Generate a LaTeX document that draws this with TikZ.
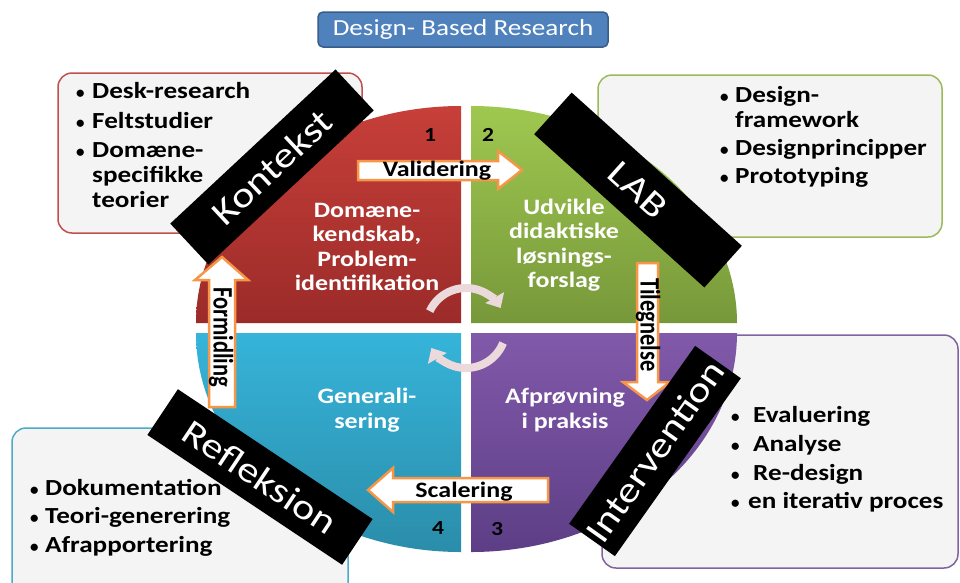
\documentclass[tikz,border=0pt]{standalone}
\usepackage{fontspec}
\setmainfont{Carlito}[FakeStretch=1.18]
\newfontfamily\plainfont{Carlito}
\usetikzlibrary{arrows.meta}
\definecolor{titlefill}{HTML}{4F81BD}
\definecolor{titledraw}{HTML}{385D8A}
\definecolor{redtop}{HTML}{C73F39}
\definecolor{redbot}{HTML}{9B2B29}
\definecolor{greentop}{HTML}{9FC850}
\definecolor{greenbot}{HTML}{77983A}
\definecolor{bluetop}{HTML}{36B4DA}
\definecolor{bluebot}{HTML}{2A8DAA}
\definecolor{purptop}{HTML}{8159AA}
\definecolor{purpbot}{HTML}{5D3E86}
\definecolor{boxfill}{HTML}{F4F4F4}
\definecolor{redline}{HTML}{C0504D}
\definecolor{greenline}{HTML}{9BBB59}
\definecolor{blueline}{HTML}{4BACC6}
\definecolor{purpline}{HTML}{8064A2}
\definecolor{arroworange}{HTML}{F79646}
\definecolor{cyclepink}{HTML}{EBD9DB}
\tikzset{
  infobox/.style={rounded corners=14pt, fill=boxfill, line width=1.5pt, inner sep=0pt},
  quadtext/.style={text=white, font=\fontsize{22}{24.5}\selectfont\bfseries, align=center, inner sep=0pt},
  numtext/.style={font=\fontsize{20}{20}\selectfont\bfseries, inner sep=0pt},
  item/.style={anchor=west, inner sep=0pt, font=\fontsize{23}{27}\selectfont\bfseries, text height=16pt, text depth=5pt},
  band/.style={fill=black, text=white, inner sep=0pt, minimum height=56pt, font=\fontsize{36}{36}\selectfont},
  blockarrow/.style={fill=white, draw=arroworange, line width=2.5pt, line join=miter},
  arrowlabel/.style={font=\fontsize{22}{22}\selectfont\bfseries, inner sep=0pt},
  vlabel/.style={font=\plainfont\fontsize{22.5}{22.5}\selectfont\bfseries, inner sep=0pt, rotate=-90, yscale=1.25},
  cyclearrow/.style={draw=cyclepink, line width=8pt, -{Triangle[length=12pt,width=21pt]}},
}
\newcommand{\bul}[1]{\makebox[#1][l]{\raisebox{0.5pt}{\plainfont\fontsize{17}{17}\selectfont\textbullet}}}
\begin{document}
\begin{tikzpicture}[x=1pt,y=-1pt]
\clip (0,0) rectangle (960,582);
\fill[white] (0,0) rectangle (960,582);

% title
\node[draw=titledraw, fill=titlefill, rounded corners=5pt, line width=1.5pt,
      minimum width=290pt, minimum height=35pt, text=white,
      font=\fontsize{23}{23}\selectfont] (title) at (463,29.5) {Design- Based Research};

% info boxes
\node[infobox, draw=redline, minimum width=304pt, minimum height=160pt] (kbox) at (210,153) {};
\node[infobox, draw=greenline, minimum width=344pt, minimum height=162pt] (lbox) at (770,156) {};
\node[infobox, draw=blueline, minimum width=336pt, minimum height=182pt] (rbox) at (180,519) {};
\node[infobox, draw=purpline, minimum width=356pt, minimum height=233pt] (ibox) at (780,451.5) {};

% quadrants
\shade[top color=redtop, bottom color=redbot] (461,323) -- (461,106)
  arc[start angle=-90, end angle=-180, x radius=265, y radius=217] -- cycle;
\shade[top color=greentop, bottom color=greenbot] (471,323) -- (471,106)
  arc[start angle=-90, end angle=0, x radius=266, y radius=217] -- cycle;
\shade[top color=bluetop, bottom color=bluebot] (461,333) -- (196,333)
  arc[start angle=180, end angle=90, x radius=265, y radius=219] -- cycle;
\shade[top color=purptop, bottom color=purpbot] (471,333) -- (737,333)
  arc[start angle=0, end angle=90, x radius=266, y radius=219] -- cycle;

% cycle arrows
\coordinate (hub) at (466,328);
\draw[cyclearrow] (hub) ++(-155:40) arc[start angle=-155, end angle=-30, radius=40];
\draw[cyclearrow] (hub) ++(22:40) arc[start angle=22, end angle=150, radius=40];

% numbers
\node[numtext] (n1) at (430,135) {1};
\node[numtext] (n2) at (488,135) {2};
\node[numtext] (n3) at (497,529) {3};
\node[numtext] (n4) at (438,528) {4};

% quadrant texts
\node[quadtext] (q1) at (367,247) {Domæne-\\kendskab,\\Problem-\\identifikation};
\node[quadtext] (q2) at (564,245) {Udvikle\\didaktiske\\løsnings-\\forslag};
\node[quadtext] (q4) at (367,410) {Generali-\\sering};
\node[quadtext] (q3) at (565,410) {Afprøvning\\i praksis};

% block arrows
\draw[blockarrow] (358,161) -- (498,161) -- (498,151) -- (522,170) -- (498,189) -- (498,180) -- (358,180) -- cycle;
\node[arrowlabel] (validering) at (437,171) {Validering};
\draw[blockarrow] (637,263) -- (658,263) -- (658,382) -- (670,382) -- (647,400) -- (623,382) -- (637,382) -- cycle;
\node[vlabel] (tilegnelse) at (648,325) {Tilegnelse};
\draw[blockarrow] (548,478) -- (393,478) -- (393,468) -- (368,490) -- (393,512) -- (393,502) -- (548,502) -- cycle;
\node[arrowlabel] (scalering) at (464,492) {Scalering};
\draw[blockarrow] (209,407) -- (209,280) -- (195,280) -- (222,257) -- (248,280) -- (235,280) -- (235,407) -- cycle;
\node[vlabel] (formidling) at (221,337) {Formidling};

% bands
\node[band, minimum width=226pt, rotate=43] (kontekst) at (272,167) {Kontekst};
\node[band, minimum width=229pt, rotate=-42] (lab) at (638,190) {LAB};
\node[band, minimum width=218pt, rotate=54.7] (intervention) at (655,451) {Intervention};
\node[band, minimum width=234pt, minimum height=55pt, rotate=-33.7] (refleksion) at (260,477) {Refleksion};

% box items
\node[item] (k1) at (76,93) {\bul{16pt}Desk-research};
\node[item] (k2) at (76,123) {\bul{16pt}Feltstudier};
\node[item] (k3) at (76,152) {\bul{16pt}Domæne-};
\node[item] (k4) at (92,177) {specifikke};
\node[item] (k5) at (92,202) {teorier};

\node[item] (l1) at (720,97) {\bul{15pt}Design-};
\node[item] (l2) at (735,122) {framework};
\node[item] (l3) at (720,150) {\bul{15pt}Designprincipper};
\node[item] (l4) at (720,178) {\bul{15pt}Prototyping};

\node[item] (r1) at (30,490) {\bul{15pt}Dokumentation};
\node[item] (r2) at (30,518) {\bul{15pt}Teori-generering};
\node[item] (r3) at (30,547) {\bul{15pt}Afrapportering};

\node[item] (i1) at (731,417) {\bul{22pt}Evaluering};
\node[item] (i2) at (731,446) {\bul{22pt}Analyse};
\node[item] (i3) at (731,475) {\bul{22pt}Re-design};
\node[item] (i4) at (731,503) {\bul{17pt}en iterativ proces};
\end{tikzpicture}
\end{document}
